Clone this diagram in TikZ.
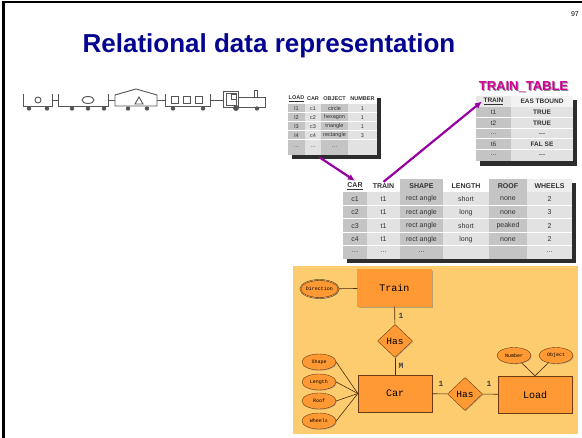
\documentclass[tikz,border=0pt]{standalone}
\usepackage{fontspec}
\setmainfont{Liberation Sans}
\setmonofont{Liberation Mono}
\usetikzlibrary{arrows.meta,shapes.geometric,shadows}

\definecolor{titleblue}{RGB}{5,5,145}
\definecolor{linkpurple}{RGB}{150,0,160}
\definecolor{ttmagenta}{RGB}{210,0,150}
\definecolor{cdark}{RGB}{196,196,196}
\definecolor{clight}{RGB}{226,226,226}
\definecolor{cshade}{RGB}{45,45,45}
\definecolor{celltext}{RGB}{50,50,50}
\definecolor{traingray}{RGB}{85,85,85}
\definecolor{erback}{RGB}{253,204,110}
\definecolor{erfill}{RGB}{255,153,51}
\definecolor{erline}{RGB}{110,60,20}

\tikzset{
    wagon/.style={draw=traingray, line width=0.9pt},
    loadcell/.style={font=\fontsize{5.5}{6}\selectfont, text=celltext, inner sep=1pt},
    carcell/.style={font=\fontsize{7}{8}\selectfont, text=celltext, inner sep=1.5pt},
    ttcell/.style={font=\fontsize{6.5}{7}\selectfont, text=celltext, inner sep=1.5pt},
    sep/.style={draw=white, line width=1pt},
    link/.style={draw=linkpurple, line width=2.2pt, -{Latex[length=7pt,width=6.5pt]}},
    entity/.style={draw=erline, fill=erfill, minimum width=74pt, minimum height=37pt, inner sep=0pt,
        font=\ttfamily\fontsize{10}{12}\selectfont,
        drop shadow={shadow xshift=1.2pt, shadow yshift=-1.2pt, fill=black!55}},
    attr/.style={ellipse, draw=erline, fill=erfill, minimum width=34pt, minimum height=16pt, inner sep=0pt,
        font=\ttfamily\fontsize{5}{6}\selectfont,
        drop shadow={shadow xshift=0.8pt, shadow yshift=-0.8pt, fill=black!45}},
    rel/.style={diamond, draw=erline, fill=erfill, minimum width=35pt, minimum height=33pt, inner sep=0pt,
        font=\ttfamily\fontsize{9.5}{11}\selectfont,
        drop shadow={shadow xshift=0.8pt, shadow yshift=-0.8pt, fill=black!45}},
    erlink/.style={draw=erline!70!black, line width=0.6pt},
    card/.style={font=\ttfamily\bfseries\fontsize{8}{9}\selectfont, text=black!75, inner sep=0pt}
}

\begin{document}
\begin{tikzpicture}[x=1pt, y=-1pt]
    \useasboundingbox (0,0) rectangle (582,438);
    \fill[white] (0,0) rectangle (582,438);
    \draw[line width=2.5pt] (3.5,438) -- (3.5,2) -- (582,2);

    \node[font=\bfseries\fontsize{26}{30}\selectfont, text=titleblue, anchor=base] (title) at (269,53) {Relational data representation};
    \node[font=\fontsize{7}{8}\selectfont, anchor=base east, inner sep=0pt] (pageno) at (579,17) {97};

    % the train
    \begin{scope}[wagon]
        \draw (23,94) -- (23,106) -- (52,106) -- (52,94);
        \draw (38,100) circle (3);
        \draw (52,100) -- (58,100);
        \draw (58,94) -- (58,106) -- (108,106) -- (108,94);
        \draw (88,100) ellipse (6 and 3.5);
        \draw (108,100) -- (115,100);
        \draw (115,106) -- (115,95) -- (136,89) -- (157,95) -- (157,106) -- cycle;
        \draw (135,104) -- (139,97) -- (143,104) -- cycle;
        \draw (157,100) -- (165,100);
        \draw (165,94) -- (165,106) -- (210,106) -- (210,94);
        \foreach \x in {175,187,199}
            \draw (\x-3.5,96.5) rectangle (\x+3.5,103.5);
        \draw (210,100) -- (223,100);
        \draw (223,91) rectangle (238,107);
        \draw (226,93.5) rectangle (236,105);
        \draw (231,94) rectangle (236,99.5);
        \draw (238,97.5) -- (265,97.5) -- (265,107) -- (238,107);
        \draw (254,97.5) -- (254,90.5) -- (257,90.5) -- (257,97.5);
    \end{scope}
    \foreach \x in {29,47,72,88,104,128,147,173,203,257}
        \fill[traingray] (\x,108.5) circle (2.2);
    \fill[traingray] (236,108) circle (3);

    % LOAD table
    \fill[cshade] (292,98) rectangle (381,159);
    \fill[white] (288,94) rectangle (377,104);
    \fill[cdark] (288,104) rectangle (305,155);
    \fill[clight] (305,104) rectangle (321,155);
    \fill[cdark] (321,104) rectangle (348,155);
    \fill[clight] (348,104) rectangle (377,155);
    \foreach \y in {113,122,131,140}
        \draw[sep] (288,\y) -- (377,\y);
    \begin{scope}[every node/.style={loadcell, font=\bfseries\fontsize{5.5}{6}\selectfont}]
        \node (load-h1) at (296.5,99) {\underline{LOAD}};
        \node (load-h2) at (313,99) {CAR};
        \node (load-h3) at (334.5,99) {OBJECT};
        \node (load-h4) at (362.5,99) {NUMBER};
    \end{scope}
    \foreach \y/\a/\b/\c/\d [count=\r] in {108.5/l1/c1/circle/1, 117.5/l2/c2/hexagon/1,
            126.5/l3/c3/triangle/1, 135.5/l4/c4/rectangle/3, 147/{\dots}/{\dots}/{\dots}/{}} {
        \node[loadcell] (load-\r-1) at (296.5,\y) {\a};
        \node[loadcell] (load-\r-2) at (313,\y) {\b};
        \node[loadcell] (load-\r-3) at (334.5,\y) {\c};
        \node[loadcell] (load-\r-4) at (362.5,\y) {\d};
    }

    % TRAIN_TABLE
    \node[font=\bfseries\fontsize{13}{15}\selectfont, text=black!45] (tt-shadow) at (524.5,88) {TRAIN\_TABLE};
    \node[font=\bfseries\fontsize{13}{15}\selectfont, text=ttmagenta] (tt-title) at (523.5,87) {TRAIN\_TABLE};
    \fill[cshade] (480,100) rectangle (577,166);
    \fill[clight!80!white] (476,96) rectangle (511,107);
    \fill[white!95!black] (511,96) rectangle (573,107);
    \fill[cdark] (476,107) rectangle (511,161);
    \fill[clight] (511,107) rectangle (573,161);
    \foreach \y in {117.5,128.5,139,150}
        \draw[sep] (476,\y) -- (573,\y);
    \node[ttcell, font=\bfseries\fontsize{6.5}{7}\selectfont] (tt-h1) at (493.5,101.5) {\underline{TRAIN}};
    \node[ttcell, font=\bfseries\fontsize{6.5}{7}\selectfont] (tt-h2) at (542,101.5) {EAS TBOUND};
    \foreach \y/\a/\b [count=\r] in {112.25/t1/TRUE, 123/t2/TRUE, 133.75/{\dots}/{\dots},
            144.5/t6/FAL SE, 155.5/{\dots}/{\dots}} {
        \node[ttcell] (tt-\r-1) at (493.5,\y) {\a};
        \node[ttcell, font=\bfseries\fontsize{6.5}{7}\selectfont] (tt-\r-2) at (542,\y) {\b};
    }

    % CAR table
    \fill[cshade] (347,183) rectangle (576,263);
    \fill[white] (343,179) rectangle (572,192);
    \fill[cdark] (400,179) rectangle (443,192);
    \fill[cdark] (489,179) rectangle (527,192);
    \fill[clight!60!white] (527,179) rectangle (572,192);
    \foreach \a/\b/\c in {343/367/cdark, 367/400/clight, 400/443/cdark, 443/489/clight, 489/527/cdark, 527/572/clight}
        \fill[\c] (\a,192) rectangle (\b,259);
    \foreach \y in {205.5,219,232.5,246}
        \draw[sep] (343,\y) -- (572,\y);
    \begin{scope}[every node/.style={carcell, font=\bfseries\fontsize{7}{8}\selectfont}]
        \node (car-h1) at (355,186) {\underline{CAR}};
        \node (car-h2) at (383.5,186) {TRAIN};
        \node (car-h3) at (421.5,186) {SHAPE};
        \node (car-h4) at (466,186) {LENGTH};
        \node (car-h5) at (508,186) {ROOF};
        \node (car-h6) at (549.5,186) {WHEELS};
    \end{scope}
    \foreach \y/\a/\b/\c/\d/\e/\f [count=\r] in {198.75/c1/t1/rect angle/short/none/2,
            212.25/c2/t1/rect angle/long/none/3, 225.75/c3/t1/rect angle/short/peaked/2,
            239.25/c4/t1/rect angle/long/none/2, 252.5/{\dots}/{\dots}/{\dots}/{}/{}/{\dots}} {
        \node[carcell] (car-\r-1) at (355,\y) {\a};
        \node[carcell] (car-\r-2) at (383.5,\y) {\b};
        \node[carcell] (car-\r-3) at (421.5,\y) {\c};
        \node[carcell] (car-\r-4) at (466,\y) {\d};
        \node[carcell] (car-\r-5) at (508,\y) {\e};
        \node[carcell] (car-\r-6) at (549.5,\y) {\f};
    }

    % foreign keys
    \coordinate (load-car) at (319,157);
    \draw[link] (load-car) -- (car-h1.north);
    \draw[link] (car-h2.north) -- (tt-h1.west);

    % ER diagram
    \fill[erback] (293,266) rectangle (578,434);
    \node[entity, draw=black!85, double=erfill, double distance=0.8pt] (train) at (394.5,288) {Train};
    \node[attr, draw=black!80, double=erfill, double distance=0.6pt, minimum width=35pt, minimum height=18pt] (direction) at (319.5,289) {Direction};
    \node[rel] (has1) at (395,341) {Has};
    \node[entity] (car) at (395,393.5) {Car};
    \node[rel] (has2) at (465,394) {Has};
    \node[entity] (load) at (535,394.5) {Load};
    \node[attr] (number) at (514,355.5) {Number};
    \node[attr] (object) at (556,355.5) {Object};
    \foreach \n/\t/\y in {shape/Shape/362, length/Length/382, roof/Roof/401, wheels/Wheels/421} {
        \node[attr] (\n) at (319,\y) {\t};
        \draw[erlink] (\n.east) -- (car.west);
    }
    \draw[erlink] (direction) -- (train);
    \draw[erlink] (train) -- (has1);
    \draw[erlink] (has1) -- (car);
    \draw[erlink] (car) -- (has2);
    \draw[erlink] (has2) -- (load);
    \draw[erlink] (number) -- (load.north);
    \draw[erlink] (object) -- (load.north);
    \node[card] (card-train) at (401,316) {1};
    \node[card] (card-car) at (401,366) {M};
    \node[card] (card-car2) at (441,384) {1};
    \node[card] (card-load) at (489,384) {1};
\end{tikzpicture}
\end{document}
